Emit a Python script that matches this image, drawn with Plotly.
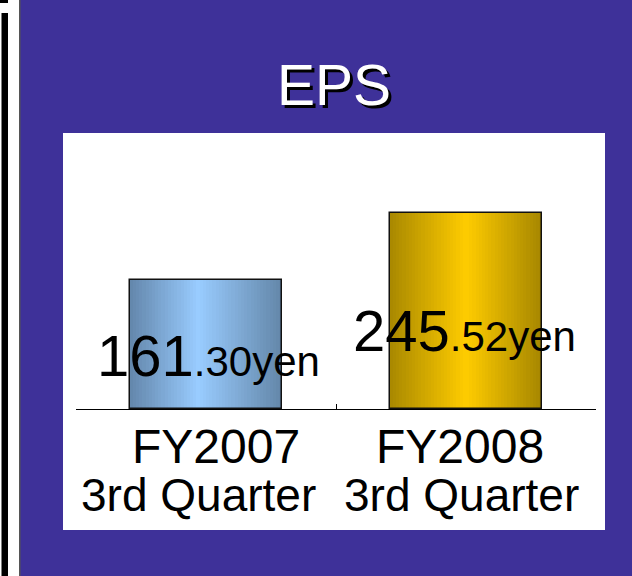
import plotly.graph_objects as go

# ---- data ----
categories = ["FY2007", "FY2008"]
quarter_labels = ["3rd Quarter", "3rd Quarter"]
eps_values = [161.30, 245.52]
value_int = ["161", "245"]
value_dec = [".30yen", ".52yen"]
title_text = "EPS"

W, H = 632, 576
FONT = "Liberation Sans, Arial, sans-serif"
PURPLE = "#3E3199"

def px_x(p):
    return p / W

def px_y(p):
    return (H - p) / H

def lerp(c1, c2, t):
    return tuple(round(a + (b - a) * t) for a, b in zip(c1, c2))

blue_edge_l, blue_mid, blue_edge_r = (0x63, 0x86, 0xAB), (0x99, 0xCC, 0xFF), (0x63, 0x86, 0xA8)
gold_edge_l, gold_mid, gold_edge_r = (0xA8, 0x88, 0x00), (0xFF, 0xCC, 0x00), (0xA5, 0x86, 0x00)

def grad(l, m, r, t, mid=0.47):
    if t <= mid:
        return lerp(l, m, t / mid)
    return lerp(m, r, (t - mid) / (1 - mid))

fig = go.Figure()

BAR_W = 0.587
N = 48
sw = BAR_W / N
for i in range(N):
    t = (i + 0.5) / N
    cb = grad(blue_edge_l, blue_mid, blue_edge_r, t, 0.45)
    cg = grad(gold_edge_l, gold_mid, gold_edge_r, t, 0.5)
    fig.add_trace(go.Bar(
        x=categories, y=eps_values,
        width=min(sw * 1.6, BAR_W - i * sw),
        offset=-BAR_W / 2 + i * sw,
        marker=dict(color=[f"rgb{cb}", f"rgb{cg}"], line=dict(width=0)),
        hoverinfo="skip", showlegend=False,
    ))

# outline
fig.add_trace(go.Bar(
    x=categories, y=eps_values, width=BAR_W, offset=-BAR_W / 2,
    marker=dict(color="rgba(0,0,0,0)", line=dict(color="#111111", width=1.5)),
    showlegend=False,
))

# value labels
label_y = [px_y(355), px_y(330)]
label_dx = [2, -2]
for i, c in enumerate(categories):
    fig.add_annotation(
        x=c, xref="x", y=label_y[i], yref="paper", xshift=label_dx[i],
        text=f"{value_int[i]}<span style='font-size:42px'>{value_dec[i]}</span>",
        showarrow=False, yanchor="middle", xanchor="center",
        font=dict(family=FONT, size=58, color="black"),
    )

# category labels (two lines)
fy_dx = [10, -6]
q_dx = [-8, -5]
for i, c in enumerate(categories):
    fig.add_annotation(
        x=c, xref="x", y=px_y(446.5), yref="paper", xshift=fy_dx[i],
        text=c, showarrow=False, yanchor="middle",
        font=dict(family=FONT, size=48, color="black"),
    )
    fig.add_annotation(
        x=c, xref="x", y=px_y(494.5), yref="paper", xshift=q_dx[i],
        text=quarter_labels[i], showarrow=False, yanchor="middle",
        font=dict(family=FONT, size=46, color="black"),
    )

# title with drop shadow
for dx, dy, col in [(3, -3, "black"), (0, 0, "white")]:
    fig.add_annotation(
        x=px_x(333.5), xref="paper", y=px_y(85), yref="paper",
        xshift=dx, yshift=dy, text=title_text, showarrow=False,
        yanchor="middle", font=dict(family=FONT, size=57, color=col),
    )

shapes = [
    dict(type="rect", xref="paper", yref="paper", x0=px_x(63), x1=px_x(605),
         y0=px_y(530), y1=px_y(133), fillcolor="white", line=dict(width=0), layer="below"),
    dict(type="rect", xref="paper", yref="paper", x0=0, x1=px_x(19),
         y0=0, y1=1, fillcolor="white", line=dict(width=0), layer="below"),
    dict(type="rect", xref="paper", yref="paper", x0=px_x(1.5), x1=px_x(8),
         y0=0, y1=px_y(13), fillcolor="black", line=dict(width=0), layer="below"),
    dict(type="rect", xref="paper", yref="paper", x0=0, x1=px_x(8),
         y0=px_y(3), y1=1, fillcolor="black", line=dict(width=0), layer="below"),
    dict(type="rect", xref="paper", yref="paper", x0=px_x(19), x1=px_x(20.5),
         y0=0, y1=1, fillcolor="#555555", line=dict(width=0), layer="below"),
]

y_top_px, base_px = 140, 409
scale = (base_px - 280) / eps_values[0]
ymax = (base_px - y_top_px) / scale

fig.update_layout(
    width=W, height=H, margin=dict(l=0, r=0, t=0, b=0),
    paper_bgcolor=PURPLE, plot_bgcolor="rgba(0,0,0,0)",
    barmode="overlay", bargap=0, showlegend=False, shapes=shapes,
    font=dict(family=FONT),
    xaxis=dict(
        type="category", categoryorder="array", categoryarray=categories,
        domain=[px_x(76), px_x(596)], range=[-0.5, 1.5],
        showline=True, linecolor="black", linewidth=1.2,
        ticks="inside", tickson="boundaries", ticklen=5, tickcolor="black", tickwidth=1.2,
        showgrid=False, zeroline=False, fixedrange=True, showticklabels=False,
    ),
    yaxis=dict(
        domain=[px_y(base_px), px_y(y_top_px)], range=[0, ymax], visible=False,
        fixedrange=True,
    ),
)

fig.write_html(
    "out.html",
    config={"displayModeBar": False},
    post_script="document.body.style.margin='0';document.body.style.padding='0';",
)
